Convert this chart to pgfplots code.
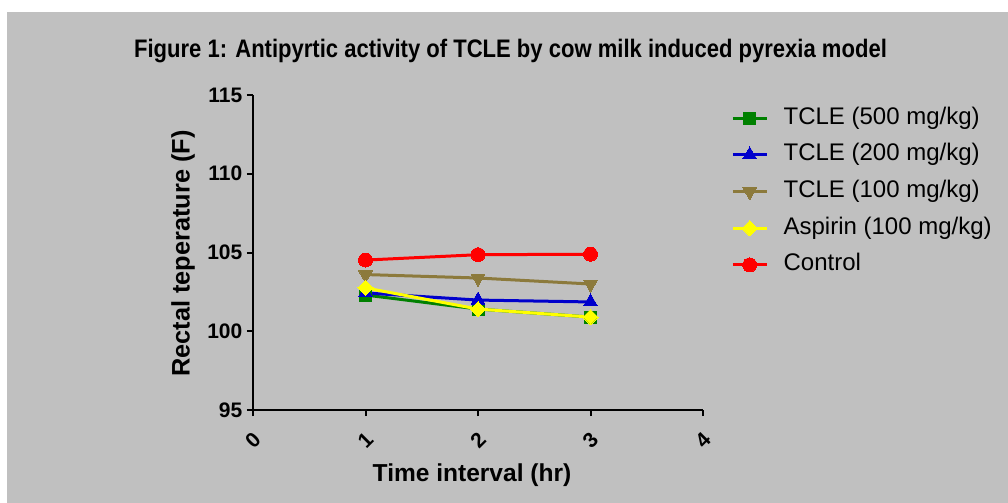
\documentclass[border=0pt]{standalone}
\usepackage{fontspec}
\setmainfont{Liberation Sans}
\usepackage{graphicx}
\usepackage{pgfplots}
\pgfplotsset{compat=1.18}
\newlength\px \setlength\px{0.75pt}
\definecolor{bg}{RGB}{192,192,192}
\definecolor{cgreen}{RGB}{0,128,0}
\definecolor{cblue}{RGB}{0,0,204}
\definecolor{ctan}{RGB}{140,122,60}
\definecolor{cyellow}{RGB}{255,255,0}
\definecolor{cred}{RGB}{255,0,0}
\begin{document}
\begin{tikzpicture}
\useasboundingbox (0,0) rectangle (1008\px,-503\px);
\fill[white] (0,0) rectangle (1008\px,-503\px);
\fill[bg] (7\px,-12\px) rectangle (1008\px,-503\px);
\node[font=\fontsize{19}{22}\selectfont\bfseries] at (510.5\px,-51\px) {\scalebox{0.87}[1]{Figure 1: Antipyrtic activity of TCLE by cow milk induced pyrexia model}};
\begin{axis}[at={(253\px,-410\px)}, anchor=south west, scale only axis,
  width=450\px, height=315\px,
  xmin=0, xmax=4, ymin=95, ymax=115,
  axis x line=bottom, axis y line=left,
  axis line style={-, line width=2\px, black},
  xtick={0,1,2,3,4}, ytick={95,100,105,110,115},
  minor tick num=0,
  tick align=outside, major tick length=6\px,
  tick style={line width=2\px, black},
  /pgf/number format/assume math mode=true,
  tick label style={font=\fontsize{15.75}{18}\selectfont\bfseries},
  xticklabel style={anchor=center, yshift=-24\px, rotate=45},
  xlabel={Time interval (hr)},
  ylabel={Rectal teperature (F)},
  xlabel style={font=\fontsize{18.4}{22}\selectfont\bfseries, at={(axis description cs:0.4867,-0.2063)}, anchor=center},
  ylabel style={font=\fontsize{19}{22}\selectfont\bfseries, at={(axis description cs:-0.1556,0.497)}, anchor=center},
  clip=false,
  legend cell align=left,
  legend style={at={(axis description cs:1.0622,0.963)}, anchor=north west, draw=none, fill=none,
    font=\fontsize{18}{21}\selectfont, inner sep=0pt, row sep=10.5pt,
    nodes={inner sep=0pt, text height=13pt, text depth=4pt},
    /tikz/every odd column/.append style={column sep=11.5pt}},
  legend image code/.code={\draw[mark repeat=2,mark phase=2,#1] plot coordinates {(0pt,0pt) (12.75pt,0pt) (25.5pt,0pt)};},
  every axis plot/.append style={line width=2.25pt},
]
\addplot[color=cgreen, mark=square*, mark size=4.5pt, mark options={solid, fill=cgreen, line width=0pt}] coordinates {(1,102.3) (2,101.41) (3,100.9)};
\addlegendentry{TCLE (500 mg/kg)}
\addplot[color=cblue, mark=triangle*, mark size=6pt, mark options={solid, fill=cblue, line width=0pt}] coordinates {(1,102.43) (2,101.98) (3,101.86)};
\addlegendentry{TCLE (200 mg/kg)}
\addplot[color=ctan, mark=triangle*, mark size=6pt, mark options={solid, fill=ctan, rotate=180, line width=0pt}] coordinates {(1,103.6) (2,103.38) (3,103.0)};
\addlegendentry{TCLE (100 mg/kg)}
\addplot[color=cyellow, mark=square*, mark size=4pt, mark options={solid, fill=cyellow, rotate=45, line width=0pt}] coordinates {(1,102.75) (2,101.41) (3,100.9)};
\addlegendentry{Aspirin (100 mg/kg)}
\addplot[color=cred, mark=*, mark size=5.25pt, mark options={solid, fill=cred, line width=0pt}] coordinates {(1,104.52) (2,104.86) (3,104.89)};
\addlegendentry{Control}
\end{axis}
\end{tikzpicture}
\end{document}
